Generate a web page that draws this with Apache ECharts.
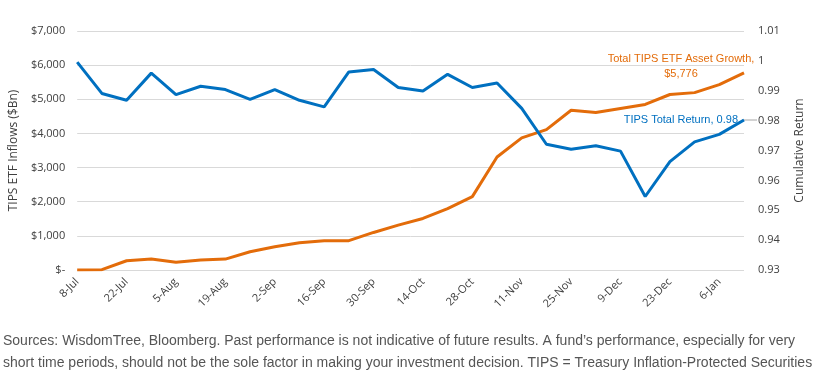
<!DOCTYPE html>
<html>
<head>
<meta charset="utf-8">
<script src="https://cdn.jsdelivr.net/npm/echarts@6/dist/echarts.min.js"></script>
<style>
  html, body { margin: 0; padding: 0; background: #fff; }
  #chart { width: 814px; height: 374px; }
</style>
</head>
<body>
<div id="chart"></div>
<script>
// weekly dates, 8-Jul to 13-Jan
const weeks = [
  "8-Jul", "15-Jul", "22-Jul", "29-Jul", "5-Aug", "12-Aug", "19-Aug", "26-Aug",
  "2-Sep", "9-Sep", "16-Sep", "23-Sep", "30-Sep", "7-Oct", "14-Oct", "21-Oct",
  "28-Oct", "4-Nov", "11-Nov", "18-Nov", "25-Nov", "2-Dec", "9-Dec", "16-Dec",
  "23-Dec", "30-Dec", "6-Jan", "13-Jan"
];

// cumulative TIPS ETF inflows, $Bn (left axis)
const assetGrowth = [
  0, 10, 270, 320, 225, 290, 320, 535,
  680, 800, 860, 860, 1100, 1315, 1510, 1800,
  2150, 3310, 3870, 4110, 4680, 4610, 4730, 4850,
  5140, 5195, 5430, 5776
];

// TIPS cumulative total return (right axis)
const totalReturn = [
  0.9996, 0.9891, 0.9868, 0.9959, 0.9887, 0.9915, 0.9904, 0.9871,
  0.9904, 0.9868, 0.9846, 0.9963, 0.9971, 0.9911, 0.9899, 0.9955,
  0.9911, 0.9926, 0.9841, 0.9721, 0.9704, 0.9716, 0.9698, 0.9546,
  0.9663, 0.9729, 0.9754, 0.9802
];

const orange = "#E36C0A";
const blue = "#0070C0";
const txt = "#404040";

const chart = echarts.init(document.getElementById("chart"));

chart.setOption({
  animation: false,
  grid: { left: 68, right: 56, top: 31, bottom: 104 },
  xAxis: {
    type: "category",
    data: weeks,
    boundaryGap: false,
    axisLine: { show: false },
    axisTick: { show: false },
    axisLabel: {
      interval: 1,
      rotate: 45,
      color: txt,
      fontSize: 11,
      fontFamily: "Open Sans",
      margin: 10
    }
  },
  yAxis: [
    {
      type: "value",
      min: 0,
      max: 7000,
      interval: 1000,
      name: "TIPS ETF Inflows ($Bn)",
      nameLocation: "middle",
      nameGap: 57,
      nameTextStyle: { color: txt, fontSize: 12, fontFamily: "Open Sans" },
      axisLine: { show: false },
      axisTick: { show: false },
      axisLabel: {
        color: txt,
        fontSize: 11,
        fontFamily: "Open Sans",
        margin: 12,
        formatter: function (v) {
          return v === 0 ? "$-" : "$" + v.toLocaleString("en-US");
        }
      },
      splitLine: { lineStyle: { color: "#d9d9d9", width: 1 } }
    },
    {
      type: "value",
      min: 0.93,
      max: 1.01,
      interval: 0.01,
      name: "Cumulative Return",
      nameLocation: "middle",
      nameGap: 50,
      nameRotate: 90,
      nameTextStyle: { color: txt, fontSize: 12, fontFamily: "Open Sans" },
      axisLine: { show: false },
      axisTick: { show: false },
      axisLabel: {
        color: txt,
        fontSize: 11,
        fontFamily: "Open Sans",
        margin: 14,
        formatter: function (v) {
          return String(Math.round(v * 100) / 100);
        }
      },
      splitLine: { show: false }
    }
  ],
  series: [
    {
      name: "Total TIPS ETF Asset Growth",
      type: "line",
      yAxisIndex: 0,
      data: assetGrowth,
      symbol: "none",
      lineStyle: { color: orange, width: 3 },
      z: 2
    },
    {
      name: "TIPS Total Return",
      type: "line",
      yAxisIndex: 1,
      data: totalReturn,
      symbol: "none",
      lineStyle: { color: blue, width: 3 },
      z: 3
    }
  ],
  graphic: [
    {
      type: "text",
      x: 681,
      y: 51,
      style: {
        text: "Total TIPS ETF Asset Growth,\n$5,776",
        fill: orange,
        fontFamily: "Liberation Sans",
        fontSize: 11,
        align: "center",
        lineHeight: 15
      }
    },
    {
      type: "text",
      x: 738,
      y: 114,
      style: {
        text: "TIPS Total Return, 0.98",
        fill: blue,
        fontFamily: "Liberation Sans",
        fontSize: 11,
        align: "right"
      }
    },
    {
      type: "line",
      shape: { x1: 742, y1: 120, x2: 757, y2: 120 },
      style: { stroke: "#a6a6a6", lineWidth: 1 }
    },
    {
      type: "text",
      left: 3,
      top: 330,
      style: {
        text: "Sources: WisdomTree, Bloomberg. Past performance is not indicative of future results. A fund\u2019s performance, especially for very\nshort time periods, should not be the sole factor in making your investment decision. TIPS = Treasury Inflation-Protected Securities",
        fill: "#555555",
        fontFamily: "Liberation Sans",
        fontSize: 14,
        lineHeight: 22
      }
    }
  ]
});
</script>
</body>
</html>
